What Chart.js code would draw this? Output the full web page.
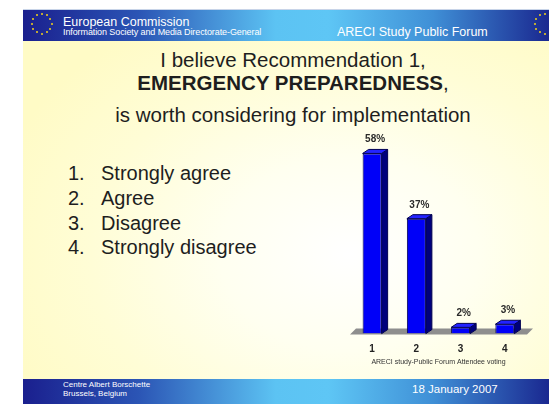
<!DOCTYPE html>
<html>
<head>
<meta charset="utf-8">
<script src="https://cdn.jsdelivr.net/npm/chart.js@4/dist/chart.umd.min.js"></script>
<style>
  html, body { margin: 0; padding: 0; background: #fff; }
  body { width: 549px; height: 404px; position: relative; overflow: hidden; font-family: "Liberation Sans", Arial, sans-serif; }
  #slide { position: absolute; left: 23px; top: 9px; width: 526px; height: 395px;
    background: radial-gradient(ellipse 70% 70% at 62% 62%, #ffffff 0%, #fffff0 35%, #fffdd6 70%, #fffbc6 100%); }
  .band { position: absolute; left: 23px; width: 526px;
    background: linear-gradient(to right, #1a1f8e 0%, #2b55b5 22%, #5cc3f3 48%, #5ec6f5 58%, #3f8fd6 78%, #1a2890 100%); }
  #header { top: 9px; height: 31px; border-top: 1px solid #c8d4e8; }
  #footer { top: 379px; height: 25px; }
  .w { position: absolute; color: #fff; white-space: nowrap; }
  .t { position: absolute; left: 0; width: 586px; text-align: center; color: #1e1e1e; font-size: 20.5px; line-height: 20px; white-space: nowrap; }
  .li { position: absolute; font-size: 20px; line-height: 20px; color: #1e1e1e; white-space: nowrap; }
  .star { position: absolute; width: 2px; height: 2px; background: #f2d21a; border-radius: 1px; }
  #chartBox { position: absolute; left: 340px; top: 125px; width: 209px; height: 245px; }
</style>
</head>
<body>
<div id="slide"></div>
<div id="header" class="band"></div>
<div id="footer" class="band"></div>

<div class="w" style="left:63px; top:15px; font-size:12.5px;">European Commission</div>
<div class="w" style="left:63px; top:27px; font-size:9px; letter-spacing:-0.1px;">Information Society and Media Directorate-General</div>
<div class="w" style="left:337px; top:25px; font-size:12.5px;">ARECI Study Public Forum</div>

<div class="w" style="left:63px; top:380px; font-size:8px; line-height:9px;">Centre Albert Borschette<br>Brussels, Belgium</div>
<div class="w" style="left:412px; top:383px; font-size:11.5px;">18 January 2007</div>

<div class="t" style="top:50px;">I believe Recommendation 1,</div>
<div class="t" style="top:73px;"><b>EMERGENCY PREPAREDNESS</b>,</div>
<div class="t" style="top:105px;">is worth considering for implementation</div>

<div id="list"></div>
<div id="chartBox"><canvas id="chart"></canvas></div>

<script>
const categories = ['1', '2', '3', '4'];
const votes = [58, 37, 2, 3];
const voteLabels = ['58%', '37%', '2%', '3%'];
const answers = ['Strongly agree', 'Agree', 'Disagree', 'Strongly disagree'];
const axisTitle = 'ARECI study-Public Forum Attendee voting';

// answer list on the left
const list = document.getElementById('list');
answers.forEach((a, i) => {
    const top = 163 + i * 24.8;
    list.insertAdjacentHTML('beforeend',
        `<div class="li" style="left:68px; top:${top}px;">${i + 1}.</div>` +
        `<div class="li" style="left:101px; top:${top}px;">${a}</div>`);
});

// little EU star circles in the header
function starRing(cx, cy, r) {
    for (let k = 0; k < 12; k++) {
        const a = k * Math.PI / 6;
        document.body.insertAdjacentHTML('beforeend',
            `<div class="star" style="left:${cx + r * Math.cos(a) - 1}px; top:${cy + r * Math.sin(a) - 1}px;"></div>`);
    }
}
starRing(41.5, 23.5, 10);
starRing(545, 23.5, 10);

const DX = 6, DY = 4, FLOOR = 6;

const bar3d = {
    id: 'bar3d',
    beforeDatasetsDraw(chart) {
        const { ctx, chartArea, scales } = chart;
        const y0 = scales.y.getPixelForValue(0) + 1;
        ctx.save();
        ctx.fillStyle = '#8e8e8e';
        ctx.beginPath();
        ctx.moveTo(chartArea.left, y0);
        ctx.lineTo(chartArea.right, y0);
        ctx.lineTo(chartArea.right + FLOOR, y0 - FLOOR);
        ctx.lineTo(chartArea.left + FLOOR, y0 - FLOOR);
        ctx.closePath();
        ctx.fill();
        ctx.restore();
    },
    afterDatasetsDraw(chart) {
        const ctx = chart.ctx;
        const meta = chart.getDatasetMeta(0);
        ctx.save();
        ctx.lineWidth = 1;
        ctx.strokeStyle = '#000050';
        meta.data.forEach((bar, i) => {
            const { x, y, base, width } = bar.getProps(['x', 'y', 'base', 'width'], true);
            const l = x - width / 2, r = x + width / 2;
            // side face
            ctx.fillStyle = '#00007c';
            ctx.beginPath();
            ctx.moveTo(r, y);
            ctx.lineTo(r + DX, y - DY);
            ctx.lineTo(r + DX, base - DY);
            ctx.lineTo(r, base);
            ctx.closePath();
            ctx.fill();
            ctx.stroke();
            // top face
            ctx.fillStyle = '#2323ff';
            ctx.beginPath();
            ctx.moveTo(l, y);
            ctx.lineTo(l + DX, y - DY);
            ctx.lineTo(r + DX, y - DY);
            ctx.lineTo(r, y);
            ctx.closePath();
            ctx.fill();
            ctx.stroke();
            // value label
            ctx.fillStyle = '#2a2a2a';
            ctx.font = 'bold 10px "Liberation Sans", Arial, sans-serif';
            ctx.textAlign = 'center';
            ctx.textBaseline = 'alphabetic';
            ctx.fillText(voteLabels[i], x + 3, y - DY - 7);
        });
        ctx.restore();
    }
};

new Chart(document.getElementById('chart').getContext('2d'), {
    type: 'bar',
    data: {
        labels: categories,
        datasets: [{
            data: votes,
            backgroundColor: '#0000f8',
            borderColor: '#000050',
            borderWidth: 1,
            barPercentage: 0.43,
            categoryPercentage: 1
        }]
    },
    options: {
        responsive: true,
        maintainAspectRatio: false,
        animation: false,
        devicePixelRatio: 1,
        layout: { padding: { left: 10, right: 22, top: 16, bottom: 0 } },
        plugins: { legend: { display: false }, tooltip: { enabled: false } },
        scales: {
            y: { display: false, min: 0, max: 62 },
            x: {
                grid: { display: false, drawTicks: false },
                border: { display: false },
                ticks: { padding: 10, color: '#222', font: { family: '"Liberation Sans", Arial, sans-serif', size: 10, weight: 'bold' } },
                title: {
                    display: true,
                    text: axisTitle,
                    color: '#333',
                    padding: { top: -8, bottom: 4 },
                    font: { family: '"Liberation Sans", Arial, sans-serif', size: 7 }
                }
            }
        }
    },
    plugins: [bar3d]
});
</script>
</body>
</html>
